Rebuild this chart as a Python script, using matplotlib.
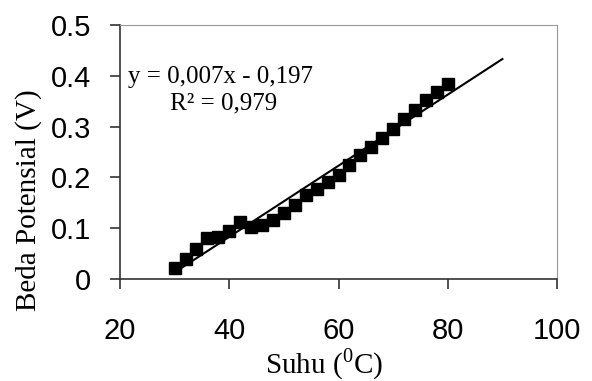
import numpy as np
import matplotlib
matplotlib.use("Agg")
import matplotlib.pyplot as plt

# data
suhu = [30, 32, 34, 36, 38, 40, 42, 44, 46, 48, 50, 52, 54, 56, 58, 60, 62,
        64, 66, 68, 70, 72, 74, 76, 78, 80]
beda = [0.022, 0.040, 0.060, 0.080, 0.083, 0.095, 0.112, 0.103, 0.107, 0.117,
        0.130, 0.145, 0.165, 0.178, 0.190, 0.205, 0.225, 0.245, 0.260, 0.278,
        0.295, 0.315, 0.333, 0.353, 0.368, 0.383]
slope = 0.007
intercept = -0.197
trend_range = [30, 90]
xticks = [20, 40, 60, 80, 100]
yticks = [0, 0.1, 0.2, 0.3, 0.4, 0.5]
ytick_labels = ["0", "0.1", "0.2", "0.3", "0.4", "0.5"]

plt.rcParams['mathtext.fontset'] = 'custom'
plt.rcParams['mathtext.rm'] = 'Liberation Serif'

fig = plt.figure(figsize=(5.92, 3.81), dpi=100)
ax = fig.add_axes([0.2027, 0.2677, 0.7382, 0.6667])

xt = np.array(trend_range)
ax.plot(xt, slope * xt + intercept, color='black', lw=1.5, zorder=2)
ax.plot(suhu, beda, 's', color='black', ms=8.5, zorder=3)

ax.set_xlim(20, 100)
ax.set_ylim(0, 0.5)
ax.set_xticks(xticks)
ax.set_yticks(yticks)
ax.set_yticklabels(ytick_labels)
ax.tick_params(direction='out', length=7, width=1.2, labelsize=21, color='#333333')
ax.tick_params(axis='x', pad=20)
ax.tick_params(axis='y', pad=14)
for lab in ax.get_xticklabels() + ax.get_yticklabels():
    lab.set_fontfamily('Liberation Sans')

for s in ['top', 'right']:
    ax.spines[s].set_color('#999999')
for s in ['left', 'bottom']:
    ax.spines[s].set_color('#333333')
    ax.spines[s].set_linewidth(1.2)

ax.set_xlabel(r'Suhu ($^{0}$C)', family='Liberation Serif', fontsize=21)
ax.xaxis.set_label_coords(0.467, -0.336)
ax.xaxis.label.set_verticalalignment('center')
ax.set_ylabel('Beda Potensial (V)', family='Liberation Serif', fontsize=21)
ax.yaxis.set_label_coords(-0.21, 0.31)
ax.yaxis.label.set_verticalalignment('center')

ax.text(0.018, 0.795, 'y = 0,007x - 0,197', transform=ax.transAxes,
        family='Liberation Serif', fontsize=18, va='center')
ax.text(0.114, 0.693, 'R² = 0,979', transform=ax.transAxes,
        family='Liberation Serif', fontsize=18, va='center')

fig.savefig('out.png', dpi=100)
